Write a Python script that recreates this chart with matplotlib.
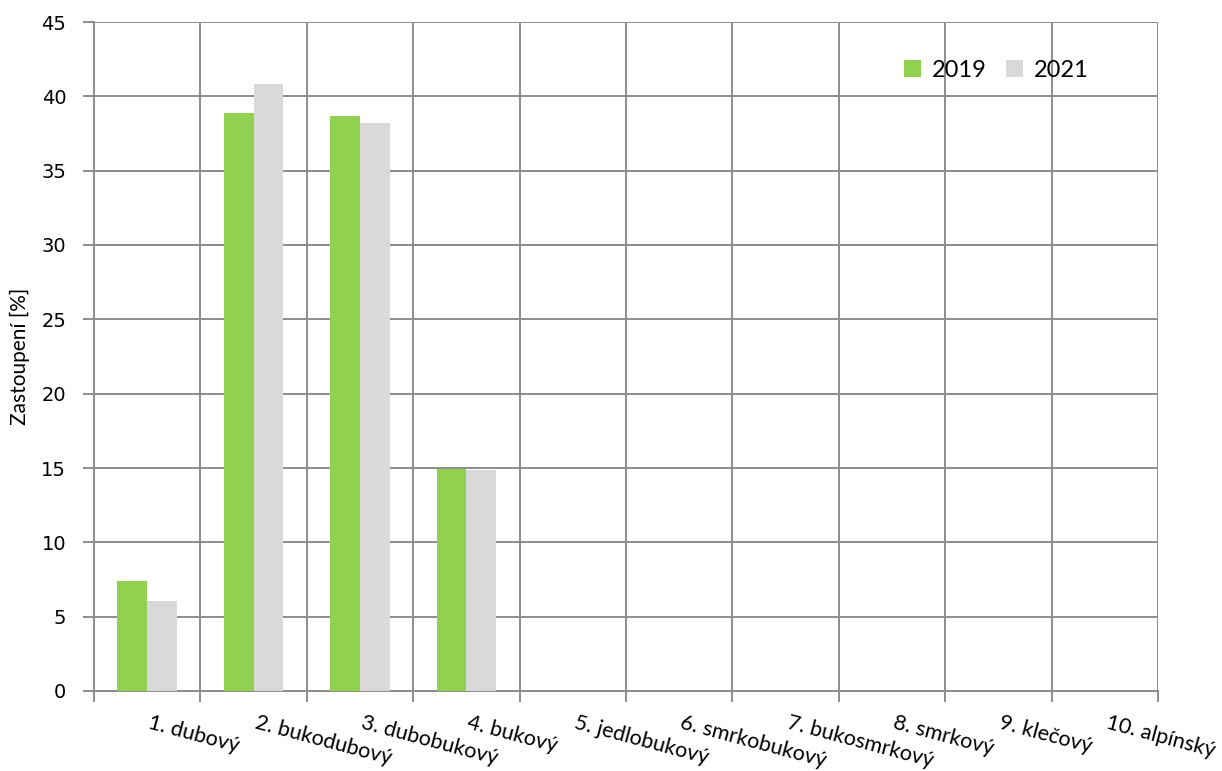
import numpy as np
import matplotlib.pyplot as plt

categories = ["1. dubový", "2. bukodubový", "3. dubobukový", "4. bukový",
              "5. jedlobukový", "6. smrkobukový", "7. bukosmrkový",
              "8. smrkový", "9. klečový", "10. alpínský"]
vals_2019 = [7.4, 38.9, 38.7, 14.9, 0, 0, 0, 0, 0, 0]
vals_2021 = [6.05, 40.8, 38.2, 14.85, 0, 0, 0, 0, 0, 0]

green = "#92d050"
grey = "#d9d9d9"
gridc = "#8c8c8c"

fig = plt.figure(figsize=(12.22, 7.71), dpi=100)
ax = fig.add_axes([94 / 1222, 80 / 771, 1064 / 1222, 669 / 771])

x = np.arange(len(categories))
w = 0.28
ax.bar(x - w / 2, vals_2019, width=w, color=green, label="2019", zorder=3)
ax.bar(x + w / 2, vals_2021, width=w, color=grey, label="2021", zorder=3)

ax.set_xlim(-0.5, len(categories) - 0.5)
ax.set_ylim(0, 45)
ax.set_yticks(np.arange(0, 46, 5))

# vertical grid at category boundaries
bounds = np.arange(-0.5, len(categories) + 0.5, 1)
ax.set_xticks(bounds)
ax.set_xticklabels([])
for b in bounds[1:]:
    ax.axvline(b, color=gridc, lw=1.4, zorder=1)
ax.yaxis.grid(True, color=gridc, lw=1.4, zorder=1)
ax.set_axisbelow(True)

for s in ["top", "right"]:
    ax.spines[s].set_visible(False)
for s in ["left", "bottom"]:
    ax.spines[s].set_color(gridc)
    ax.spines[s].set_linewidth(1.4)
ax.tick_params(axis="both", color=gridc, width=1.4, length=8)
ax.tick_params(axis="y", labelsize=14, pad=12)

for xi, lab in zip(x, categories):
    ax.text(xi, -2.5, lab, rotation=-15, rotation_mode="anchor",
            ha="left", va="baseline", fontsize=15.5, family="Lato")

ax.set_ylabel("Zastoupení [%]", fontsize=15, family="Lato", labelpad=8)

ax.legend(loc="upper right", bbox_to_anchor=(0.955, 0.975), ncol=2, frameon=False,
          prop={"family": "Lato", "size": 17},
          handlelength=0.75, handleheight=0.75, columnspacing=0.8, handletextpad=0.45)

fig.savefig("out.png", dpi=100)
